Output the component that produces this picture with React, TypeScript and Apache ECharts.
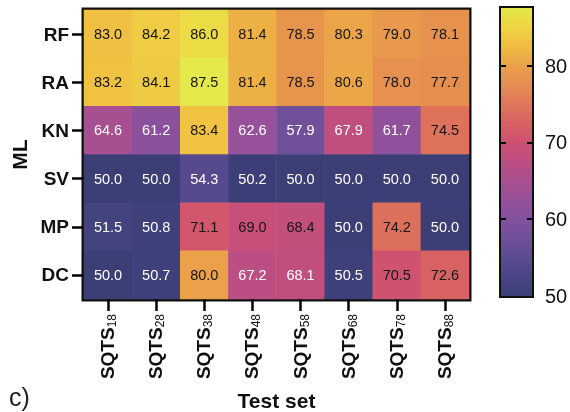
import React, { useEffect, useRef } from 'react';
import * as echarts from 'echarts';

// ---- data ----
const models = ['RF', 'RA', 'KN', 'SV', 'MP', 'DC'];
const testSets = ['SQTS18', 'SQTS28', 'SQTS38', 'SQTS48', 'SQTS58', 'SQTS68', 'SQTS78', 'SQTS88'];
const rfValues = [83.0, 84.2, 86.0, 81.4, 78.5, 80.3, 79.0, 78.1];
const raValues = [83.2, 84.1, 87.5, 81.4, 78.5, 80.6, 78.0, 77.7];
const knValues = [64.6, 61.2, 83.4, 62.6, 57.9, 67.9, 61.7, 74.5];
const svValues = [50.0, 50.0, 54.3, 50.2, 50.0, 50.0, 50.0, 50.0];
const mpValues = [51.5, 50.8, 71.1, 69.0, 68.4, 50.0, 74.2, 50.0];
const dcValues = [50.0, 50.7, 80.0, 67.2, 68.1, 50.5, 70.5, 72.6];
const rows = [rfValues, raValues, knValues, svValues, mpValues, dcValues];
const colorbarTicks = [60, 70, 80];
const colorbarLabels = [50, 60, 70, 80];
const colorMin = 50;

// plasma-like palette, low -> high
const palette = [
  '#3b3f76', '#484586', '#5b4b90', '#6e5099', '#82519d', '#96509a', '#aa4f8f', '#bd4e81',
  '#cd5072', '#d86064', '#e07759', '#e58d50', '#eaa149', '#f0bb42', '#efd443', '#e4e84a',
];

const FONT = '"Liberation Sans", Arial, sans-serif';

export default function App() {
  const ref = useRef<HTMLDivElement>(null);
  useEffect(() => {
    if (!ref.current) return;
    const chart = echarts.init(ref.current, undefined, { renderer: 'svg' });
    const colorMax = Math.max(...rows.flat());

    const heatData: any[] = [];
    rows.forEach((row, yi) => {
      row.forEach((v, xi) => {
        heatData.push({
          value: [xi, yi, v],
          label: { color: v >= 68.3 ? '#151515' : '#ffffff' },
        });
      });
    });

    const n = palette.length;
    const gradStops = palette
      .slice()
      .reverse()
      .map((c, i) => ({ offset: i / (n - 1), color: c }));

    const tickStyle = { color: '#000', width: 2.5 };

    chart.setOption({
      animation: false,
      textStyle: { fontFamily: FONT },
      grid: [
        { left: 84, right: 101, top: 10, bottom: 113, show: true, borderColor: '#111', borderWidth: 5, outerBoundsMode: 'none', containLabel: false },
        { left: 501, right: 38, top: 8, bottom: 116, show: true, borderColor: '#111', borderWidth: 4, outerBoundsMode: 'none', containLabel: false },
      ],
      visualMap: {
        show: false,
        type: 'continuous',
        min: colorMin,
        max: colorMax,
        dimension: 2,
        seriesIndex: 0,
        inRange: { color: palette },
      },
      xAxis: [
        {
          type: 'category',
          gridIndex: 0,
          data: testSets,
          position: 'bottom',
          axisLine: { show: false },
          axisTick: { show: true, alignWithLabel: true, length: 12, lineStyle: tickStyle },
          splitLine: { show: false },
          axisLabel: {
            rotate: 90,
            margin: 15,
            interval: 0,
            formatter: (v: string) => `{b|${v.slice(0, 4)}}{s|${v.slice(4)}}`,
            rich: {
              b: { fontSize: 19, fontWeight: 'bold', color: '#111', lineHeight: 20, verticalAlign: 'top', fontFamily: FONT },
              s: { fontSize: 12, color: '#111', lineHeight: 5, verticalAlign: 'bottom', fontFamily: FONT },
            },
          },
          name: 'Test set',
          nameLocation: 'middle',
          nameGap: 91,
          nameTextStyle: { fontSize: 21, fontWeight: 'bold', color: '#111', fontFamily: FONT },
        },
        { type: 'category', gridIndex: 1, data: ['cb'], show: false },
      ],
      yAxis: [
        {
          type: 'category',
          gridIndex: 0,
          data: models,
          inverse: true,
          axisLine: { show: false },
          axisTick: { show: true, alignWithLabel: true, length: 12, lineStyle: tickStyle },
          splitLine: { show: false },
          axisLabel: { fontSize: 19, fontWeight: 'bold', color: '#111', margin: 15, fontFamily: FONT },
          name: 'ML',
          nameLocation: 'middle',
          nameGap: 54,
          nameTextStyle: { fontSize: 21, fontWeight: 'bold', color: '#111', fontFamily: FONT },
        },
        {
          type: 'value',
          gridIndex: 1,
          min: colorMin,
          max: colorMax,
          position: 'right',
          z: 10,
          axisLine: { show: false },
          splitLine: { show: false },
          axisTick: { show: true, inside: true, length: 5, lineStyle: { color: '#000', width: 2 }, customValues: colorbarTicks },
          axisLabel: { show: true, customValues: colorbarLabels, fontSize: 20, color: '#111', margin: 13, fontFamily: FONT },
        },
        {
          type: 'value',
          gridIndex: 1,
          min: colorMin,
          max: colorMax,
          position: 'left',
          z: 10,
          axisLine: { show: false },
          splitLine: { show: false },
          axisTick: { show: true, inside: true, length: 5, lineStyle: { color: '#000', width: 2 }, customValues: colorbarTicks },
          axisLabel: { show: false },
        },
      ],
      series: [
        {
          type: 'heatmap',
          xAxisIndex: 0,
          yAxisIndex: 0,
          data: heatData,
          itemStyle: { borderWidth: 0 },
          label: {
            show: true,
            fontSize: 14.5,
            fontFamily: FONT,
            formatter: (p: any) => Number(p.value[2]).toFixed(1),
          },
          emphasis: { disabled: true },
        },
        {
          type: 'bar',
          xAxisIndex: 1,
          yAxisIndex: 1,
          stack: 'cb',
          barWidth: '100%',
          silent: true,
          data: [colorMin],
          itemStyle: { color: 'rgba(0,0,0,0)' },
        },
        {
          type: 'bar',
          xAxisIndex: 1,
          yAxisIndex: 1,
          stack: 'cb',
          barWidth: '100%',
          silent: true,
          data: [colorMax - colorMin],
          itemStyle: { color: new echarts.graphic.LinearGradient(0, 0, 0, 1, gradStops) },
        },
      ],
      graphic: [
        {
          type: 'text',
          left: 9,
          top: 384,
          style: { text: 'c)', fontSize: 25, fill: '#222', fontFamily: FONT },
        },
      ],
    });
    return () => chart.dispose();
  }, []);
  return <div ref={ref} style={{ position: 'fixed', left: 0, top: 0, width: 570, height: 412 }} />;
}
